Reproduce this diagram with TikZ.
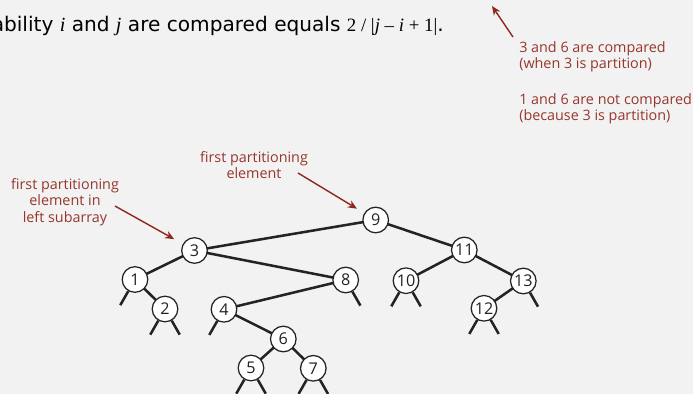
\documentclass[tikz,border=0pt]{standalone}
\usepackage{fontspec}
\usetikzlibrary{arrows.meta}
\newfontfamily\bodyfont{DejaVu Sans}
\newfontfamily\mathfont{Liberation Serif}
\newfontfamily\notefont{Open Sans}
\newfontfamily\keyfont{Open Sans}
\definecolor{bggray}{RGB}{242,242,242}
\definecolor{notered}{RGB}{150,55,45}
\definecolor{arrowred}{RGB}{140,40,30}
\definecolor{edgegray}{RGB}{35,35,35}
\newcommand{\mv}[1]{{\mathfont\itshape #1}}
\newcommand{\mr}[1]{{\mathfont #1}}
\pgfdeclarelayer{paper}
\pgfdeclarelayer{links}
\pgfsetlayers{paper,links,main}

\tikzset{
  key/.style={circle, draw=edgegray, fill=white, line width=0.9pt,
    minimum size=0.64cm, inner sep=0pt, font=\keyfont\fontsize{11.5}{12}\selectfont, text=edgegray},
  link/.style={edgegray, line width=1.8pt},
  note/.style={text=notered, font=\notefont\fontsize{10.2}{11.6}\selectfont, inner sep=0pt},
  notearrow/.style={arrowred, line width=1pt, -{Stealth[length=6.5pt,width=5.5pt]}}
}

\begin{document}
\begin{tikzpicture}[x=0.025cm, y=-0.025cm]

  \useasboundingbox (0,0) rectangle (693,394);
  \begin{pgfonlayer}{paper}
    \fill[bggray] (0,0) rectangle (693,394);
  \end{pgfonlayer}
  \clip (0,0) rectangle (693,394);

  % statement
  \node[anchor=base east, inner sep=0pt, font=\bodyfont\fontsize{14.3}{18}\selectfont, text=black]
    (prob) at (444,32) {Probability \mv{i} and \mv{j} are compared equals {\fontsize{13.4}{18}\selectfont\mr{2 / |}\mv{j}\mr{ – }\mv{i}\mr{ + 1|}}.};

  % keys
  \node[key] (k9)  at (375.7,220) {9};
  \node[key] (k3)  at (194.5,250.5) {3};
  \node[key] (k11) at (464.3,250) {11};
  \node[key] (k1)  at (135,279.5) {1};
  \node[key] (k8)  at (345.7,280) {8};
  \node[key] (k10) at (406,280.7) {10};
  \node[key] (k13) at (523.3,281) {13};
  \node[key] (k2)  at (165,309) {2};
  \node[key] (k4)  at (224,309.3) {4};
  \node[key] (k12) at (484,308.3) {12};
  \node[key] (k6)  at (283.3,339) {6};
  \node[key] (k5)  at (251,368) {5};
  \node[key] (k7)  at (313.3,368.3) {7};

  % links
  \begin{pgfonlayer}{links}
    \draw[link] (k9.center) -- (k3.center);
    \draw[link] (k9.center) -- (k11.center);
    \draw[link] (k3.center) -- (k1.center);
    \draw[link] (k3.center) -- (k8.center);
    \draw[link] (k1.center) -- (k2.center);
    \draw[link] (k8.center) -- (k4.center);
    \draw[link] (k4.center) -- (k6.center);
    \draw[link] (k6.center) -- (k5.center);
    \draw[link] (k6.center) -- (k7.center);
    \draw[link] (k11.center) -- (k10.center);
    \draw[link] (k11.center) -- (k13.center);
    \draw[link] (k13.center) -- (k12.center);

    % null links
    \foreach \n in {1,2,4,5,7,10,12}
      \draw[link] (k\n.-120) -- ++(-8,14);
    \foreach \n in {2,5,7,8,10,12,13}
      \draw[link] (k\n.-60) -- ++(8,14);
  \end{pgfonlayer}

  % notes
  \node[note, align=left, anchor=west] (cmpnote) at (519,57) {3 and 6 are compared\\(when 3 is partition)};
  \node[note, align=left, anchor=west] (notcmpnote) at (519,109) {1 and 6 are not compared\\(because 3 is partition)};
  \node[note, align=center] (rootnote) at (254,165) {first partitioning\\element};
  \node[note, align=center] (leftnote) at (65,202) {first partitioning\\element in\\left subarray};

  \coordinate (cmptail) at (513,37);
  \coordinate (cmphead) at (492,6);
  \coordinate (roottail) at (298,173);
  \coordinate (lefttail) at (115,206);

  \draw[notearrow] (cmptail) -- (cmphead);
  \draw[notearrow, shorten >=6pt] (roottail) -- (k9);
  \draw[notearrow, shorten >=7pt] (lefttail) -- (k3);

\end{tikzpicture}
\end{document}
